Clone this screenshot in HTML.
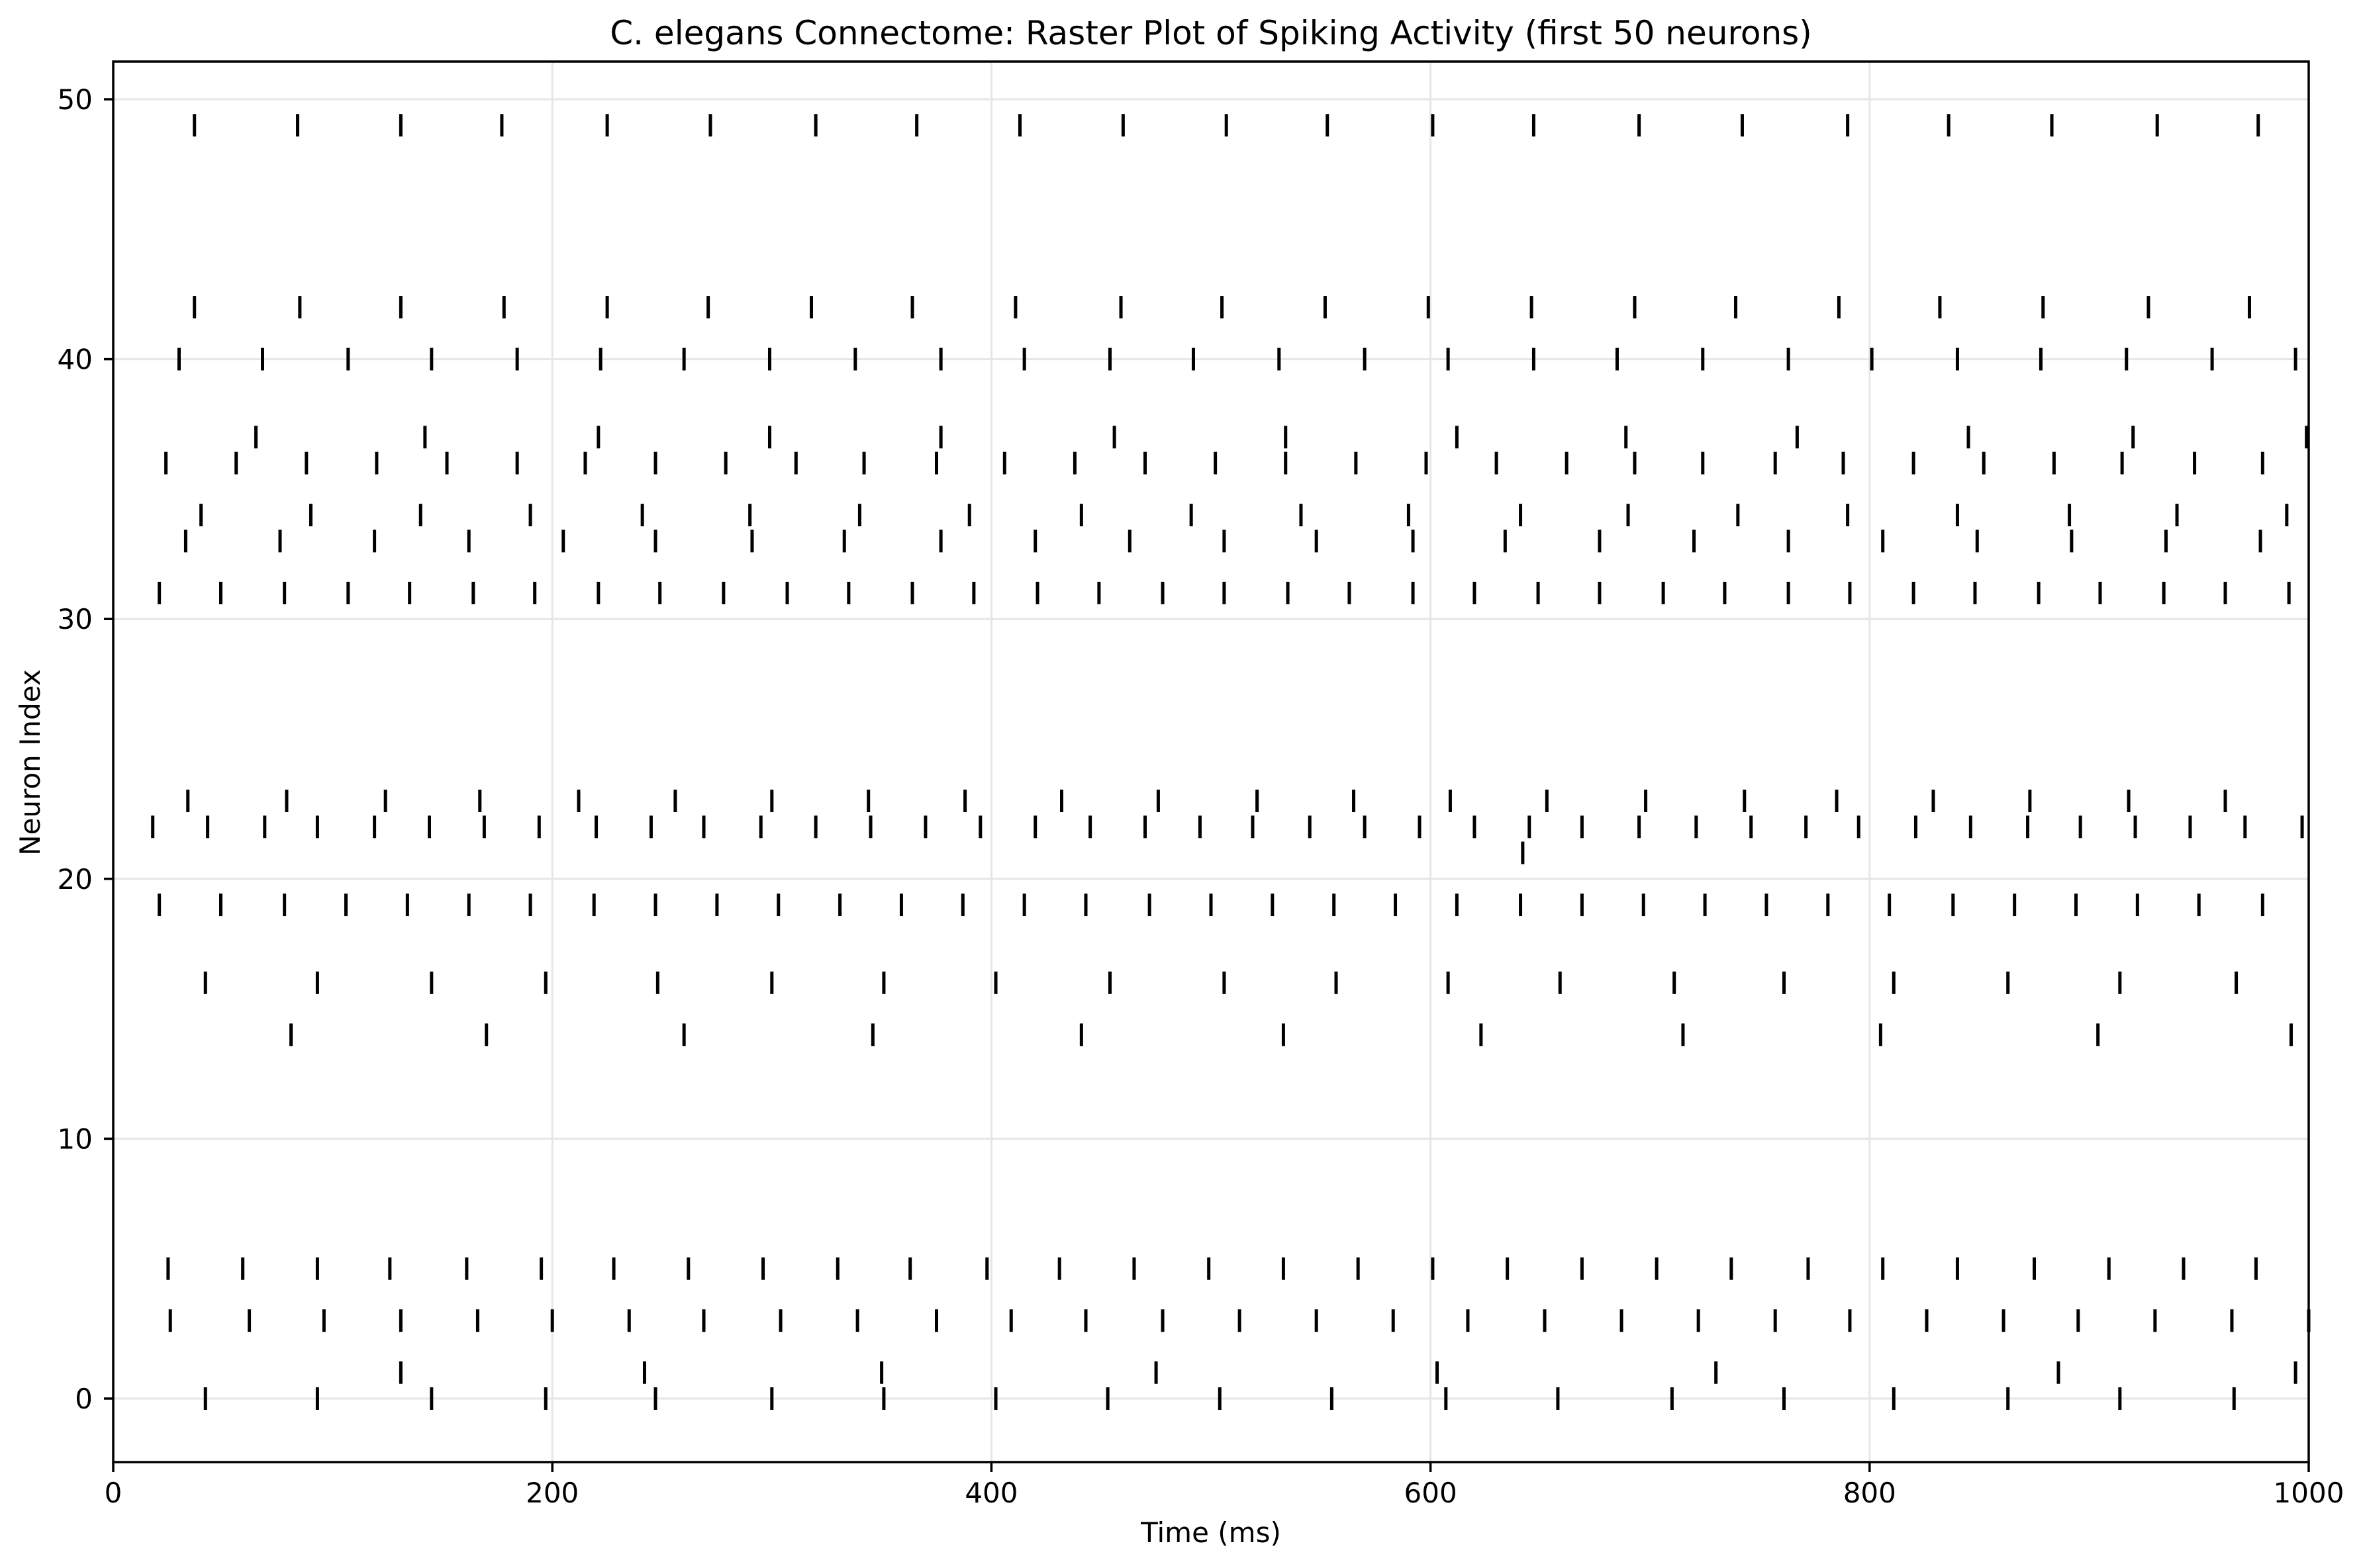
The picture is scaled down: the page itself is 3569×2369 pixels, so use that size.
<!DOCTYPE html>
<html><head><meta charset="utf-8"><style>
html,body{margin:0;padding:0;background:#fff;}
svg{display:block;font-family:"DejaVu Sans","Liberation Sans",sans-serif;}
</style></head><body>
<svg id="chart" width="3569" height="2369" viewBox="0 0 3569 2369" xmlns="http://www.w3.org/2000/svg">
<rect width="3569" height="2369" fill="#fff"/>
<g id="grid"></g>
<g id="spikes"></g>
<rect x="171" y="93" width="3316" height="2116" fill="none" stroke="#000" stroke-width="3.5"/>
<g id="ticks"></g>
<text x="1829" y="67" font-size="50" text-anchor="middle">C. elegans Connectome: Raster Plot of Spiking Activity (first 50 neurons)</text>
<text x="1829" y="2330" font-size="42" text-anchor="middle">Time (ms)</text>
<text x="60" y="1152" font-size="42" text-anchor="middle" transform="rotate(-90 60 1152)">Neuron Index</text>
</svg>
<script>
const xTicks = [0,200,400,600,800,1000];
const yTicks = [0,10,20,30,40,50];
const neuronIds = [0,1,3,5,14,16,19,21,22,23,31,33,34,36,37,40,42,49];
const spikes0 = [42,93,145,197,247,300,351,402,453,504,555,607,658,710,761,811,863,914,966];
const spikes1 = [131,242,350,475,603,730,886,994];
const spikes3 = [26,62,96,131,166,200,235,269,304,339,375,409,443,478,513,548,583,617,652,687,722,757,791,826,861,895,930,965,1000];
const spikes5 = [25,59,93,126,161,195,228,262,296,330,363,398,431,465,499,533,567,601,635,669,703,737,772,806,840,875,909,943,976];
const spikes14 = [81,170,260,346,441,533,623,715,805,904,992];
const spikes16 = [42,93,145,197,248,300,351,402,454,506,557,608,659,711,761,811,863,914,967];
const spikes19 = [21,49,78,106,134,162,190,219,247,275,303,331,359,387,415,443,472,500,528,556,584,612,641,669,697,725,753,781,809,838,866,894,922,950,979];
const spikes21 = [642];
const spikes22 = [18,43,69,93,119,144,169,194,220,245,269,295,320,345,370,395,420,445,470,495,519,545,570,595,620,645,669,695,721,746,771,795,821,846,872,896,921,946,971,997];
const spikes23 = [34,79,124,167,212,256,300,344,388,432,476,521,565,609,653,698,743,785,829,873,918,962];
const spikes31 = [21,49,78,107,135,164,192,221,249,278,307,335,364,392,421,449,478,506,535,563,592,620,649,677,706,734,763,791,820,848,877,905,934,962,991];
const spikes33 = [33,76,119,162,205,247,291,333,377,420,463,506,548,592,634,677,720,763,806,849,892,935,978];
const spikes34 = [40,90,140,190,241,290,340,390,441,491,541,590,641,690,740,790,840,891,940,990];
const spikes36 = [24,56,88,120,152,184,215,247,279,311,342,375,406,438,470,502,534,566,598,630,662,693,724,757,788,820,852,884,915,948,979];
const spikes37 = [65,142,221,299,377,456,534,612,689,767,845,920,999];
const spikes40 = [30,68,107,145,184,222,260,299,338,377,415,454,492,531,570,608,647,685,724,763,801,840,878,917,956,994];
const spikes42 = [37,85,131,178,225,271,318,364,411,459,505,552,599,646,693,739,786,832,879,927,973];
const spikes49 = [37,84,131,177,225,272,320,366,413,460,507,553,601,647,695,742,790,836,883,931,977];
const spikeTrains = [spikes0,spikes1,spikes3,spikes5,spikes14,spikes16,spikes19,spikes21,spikes22,spikes23,spikes31,spikes33,spikes34,spikes36,spikes37,spikes40,spikes42,spikes49];

const NS='http://www.w3.org/2000/svg';
const X0=171, X1=3487, Y0=2113, Y50=150;
function xs(t){return X0+(t/1000)*(X1-X0);}
function ys(v){return Y0-(v/50)*(Y0-Y50);}
function mk(tag,attrs,parent){const e=document.createElementNS(NS,tag);for(const k in attrs)e.setAttribute(k,attrs[k]);parent.appendChild(e);return e;}
const grid=document.getElementById('grid'), ticks=document.getElementById('ticks'), sp=document.getElementById('spikes');
xTicks.forEach(t=>{
  const g=mk('line',{x1:xs(t),x2:xs(t),y1:93,y2:2209,stroke:'#e6e6e6','stroke-width':3},grid);
  
  
  const tk=mk('line',{x1:xs(t),x2:xs(t),y1:2209,y2:2224,stroke:'#000','stroke-width':3.5},ticks);
  
  
  const tx=mk('text',{x:xs(t),y:2270,'font-size':42,'text-anchor':'middle'},ticks);
  tx.textContent=t;
  
  
});
yTicks.forEach(v=>{
  const g=mk('line',{x1:171,x2:3487,y1:ys(v),y2:ys(v),stroke:'#e6e6e6','stroke-width':3},grid);
  
  
  const tk=mk('line',{x1:157,x2:171,y1:ys(v),y2:ys(v),stroke:'#000','stroke-width':3.5},ticks);
  
  
  const tx=mk('text',{x:140,y:ys(v)+15,'font-size':42,'text-anchor':'end'},ticks);
  tx.textContent=v;
  
  
});
spikeTrains.forEach((arr,i)=>{
  const n=neuronIds[i];
  arr.forEach(t=>{
    const l=mk('line',{x1:xs(t),x2:xs(t),y1:ys(n)-17,y2:ys(n)+17,stroke:'#000','stroke-width':5},sp);
    
    
  });
});
</script>
</body></html>
